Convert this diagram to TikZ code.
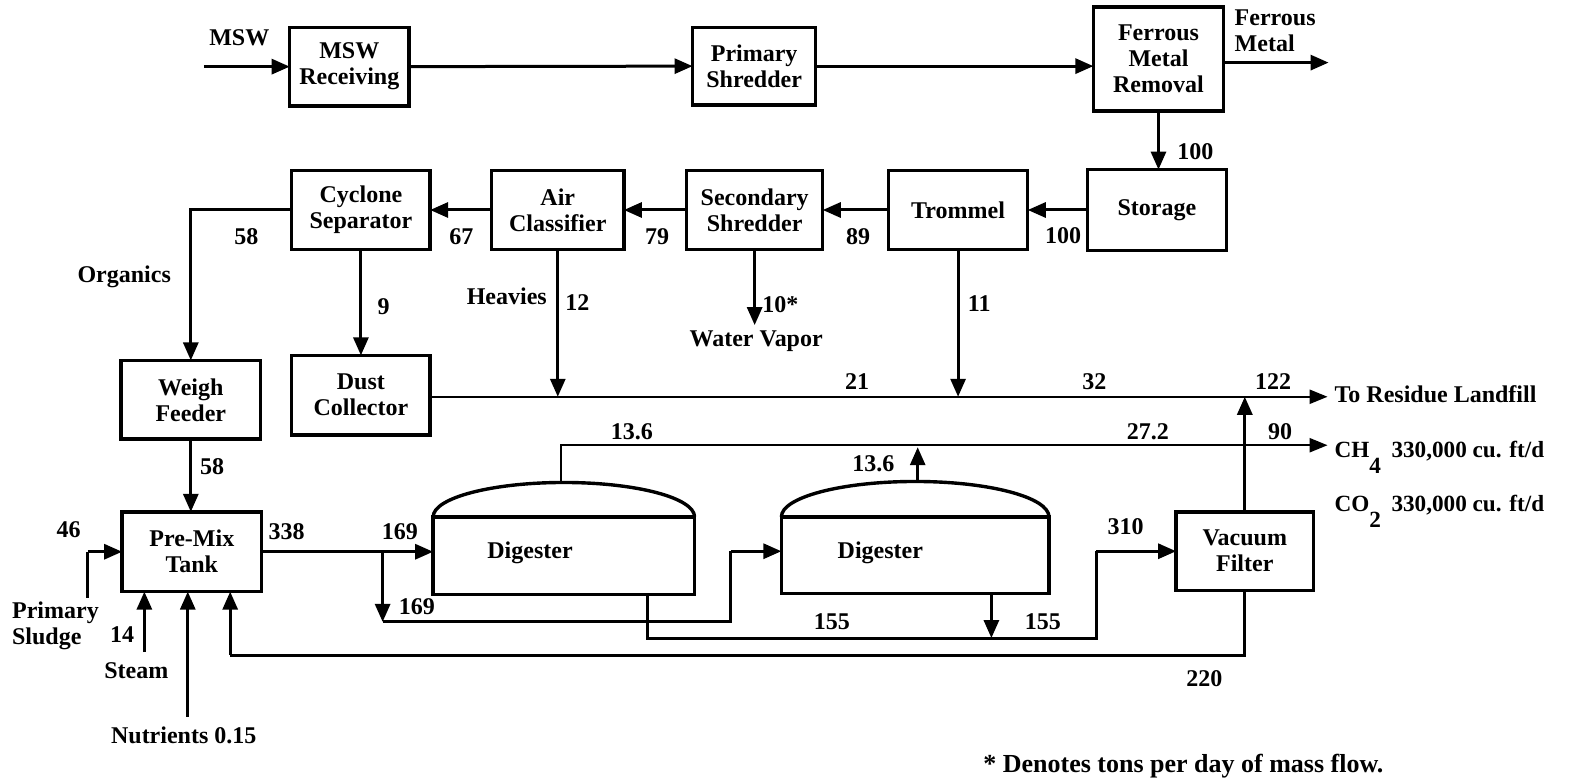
\documentclass[tikz,border=0pt]{standalone}
\usepackage{fontspec}
\setmainfont{Liberation Serif}
\usetikzlibrary{arrows.meta}
\begin{document}
\begin{tikzpicture}[x=0.5048pt,y=-0.5048pt,
  every node/.style={font=\fontsize{12}{13}\selectfont\bfseries, inner sep=0pt, outer sep=0pt},
  box/.style={draw, line width=1.7pt, align=center},
  flow/.style={line width=1.5pt, -{Triangle[length=9pt,width=7.5pt]}},
  pipe/.style={line width=1.5pt},
  mainline/.style={line width=1.15pt, -{Triangle[length=9pt,width=7pt]}},
  lbl/.style={align=left},
  gaslbl/.style={anchor=base west, font=\fontsize{11.6}{13}\selectfont\bfseries}]
\fill[white] (0,0) rectangle (1568,773);
\useasboundingbox (0,0) rectangle (1568,773);

% ---------- boxes ----------
\node[box, minimum width=59.6pt, minimum height=39.4pt] (msw)   at (346,66)      {MSW\\Receiving};
\node[box, minimum width=61.6pt, minimum height=38.9pt] (prim)  at (747,65.5)    {Primary\\Shredder};
\node[box, minimum width=65.1pt, minimum height=52pt]   (ferr)  at (1147.5,58.5) {Ferrous\\Metal\\Removal};
\node[box, minimum width=69.7pt, minimum height=40.4pt] (stor)  at (1146,208)    {Storage};
\node[box, minimum width=69.7pt, minimum height=39.4pt] (trom)  at (949,208)     {Trommel};
\node[box, minimum width=68.1pt, minimum height=39.4pt] (sec)   at (747.5,208)   {Secondary\\Shredder};
\node[box, minimum width=66.1pt, minimum height=39.4pt] (air)   at (552.5,208)   {Air\\Classifier};
\node[box, minimum width=69.2pt, minimum height=39.4pt] (cyc)   at (357.5,208)   {Cyclone\\Separator};
\node[box, minimum width=69.7pt, minimum height=39.4pt] (weigh) at (189,396)     {Weigh\\Feeder};
\node[box, minimum width=69.2pt, minimum height=39.9pt] (dust)  at (357.5,391.5) {Dust\\Collector};
\node[box, minimum width=69.7pt, minimum height=39.9pt] (premix) at (190,546.5)  {Pre-Mix\\Tank};
\node[box, minimum width=130.7pt, minimum height=38.9pt] (dig1) at (558.5,550.5) {};
\node[box, minimum width=133.8pt, minimum height=38.4pt] (dig2) at (906.5,550)   {};
\node[box, minimum width=68.7pt, minimum height=39.4pt] (vac)   at (1233,546)    {Vacuum\\Filter};

% digester domes and labels
\draw[line width=1.7pt] (dig1.north west) arc[start angle=180, end angle=0, x radius=65.35pt, y radius=17.2pt];
\draw[line width=1.7pt] (dig2.north west) arc[start angle=180, end angle=0, x radius=66.9pt, y radius=17.7pt];
\node (d1t) at (525,548) {Digester};
\node (d2t) at (872,548) {Digester};

% ---------- coordinates ----------
\coordinate (mswIn) at (202,66);
\coordinate (fmEnd) at (1316,62);
\coordinate (wv) at (747.5,322);
\coordinate (resEnd) at (1315,393);
\coordinate (g1) at (556,479);
\coordinate (gasEnd) at (1315,441);
\coordinate (g2) at (909,478);
\coordinate (g2t) at (909,443);
\coordinate (br) at (379,546.5);
\coordinate (brB) at (379,616);
\coordinate (b2) at (724,616);
\coordinate (b2t) at (724,546);
\coordinate (o1) at (641,551);
\coordinate (o1b) at (641,632);
\coordinate (o2b) at (1086,632);
\coordinate (o2t) at (1086,546);
\coordinate (d2o) at (982,551);
\coordinate (rec) at (1233,649);
\coordinate (recL) at (228,649);
\coordinate (ps) at (87,592);
\coordinate (psT) at (87,546.5);
\coordinate (stm) at (143,646);
\coordinate (nut) at (186,710);

% ---------- connectors ----------
\draw[flow] (mswIn) -- (msw.west);
\draw[flow] (msw.east) -- (prim.west);
\draw[flow] (prim.east) -- (prim.east -| ferr.west);
\draw[flow] (fmEnd -| ferr.east) -- (fmEnd);
\draw[flow] (ferr.south) -- (ferr.south |- stor.north);
\draw[flow] (stor.west) -- (trom.east);
\draw[flow] (trom.west) -- (sec.east);
\draw[flow] (sec.west) -- (air.east);
\draw[flow] (air.west) -- (cyc.east);
\draw[flow] (cyc.west) -| (weigh.north);
\draw[flow] (cyc.south) -- (cyc.south |- dust.north);
\draw[flow] (air.south) -- (air.south |- resEnd);
\draw[flow] (sec.south) -- (wv);
\draw[flow] (trom.south) -- (trom.south |- resEnd);
\draw[mainline] (dust.east |- resEnd) -- (resEnd);
\draw[mainline] (g1) -- (g1 |- gasEnd) -- (gasEnd);
\draw[flow] (g2) -- (g2t);
\draw[flow] (weigh.south) -- (weigh.south |- premix.north);
\draw[flow] (premix.east) -- (premix.east -| dig1.west);
\draw[flow] (br) -- (brB);
\draw[pipe] (brB) -- (b2) -- (b2t);
\draw[flow] (b2t) -- (b2t -| dig2.west);
\draw[pipe] (o1 |- dig1.south) -- (o1b) -- (o2b) -- (o2t);
\draw[flow] (o2t) -- (vac.west);
\draw[flow] (d2o |- dig2.south) -- (d2o |- o1b);
\draw[flow] (vac.north) -- (vac.north |- resEnd);
\draw[pipe] (vac.south) -- (rec) -- (recL);
\draw[flow] (recL) -- (recL |- premix.south);
\draw[pipe] (ps) -- (psT);
\draw[flow] (psT) -- (premix.west);
\draw[flow] (stm) -- (stm |- premix.south);
\draw[flow] (nut) -- (nut |- premix.south);

% ---------- labels ----------
\node (lMSW) at (237,37) {MSW};
\node[lbl, anchor=west] (lFM) at (1223,30.5) {Ferrous\\Metal};
\node (l100a) at (1184,150) {100};
\node (l100b) at (1053,233) {100};
\node (l89) at (850,234) {89};
\node (l79) at (651,234) {79};
\node (l67) at (457,234) {67};
\node (l58a) at (244,234) {58};
\node (lOrg) at (123,274) {Organics};
\node (l9) at (380,304) {9};
\node (lHev) at (502,293) {Heavies};
\node (l12) at (572,300) {12};
\node (l10) at (773,302) {10*};
\node (lWV) at (749,338) {Water Vapor};
\node (l11) at (970,301) {11};
\node (l21) at (849,378) {21};
\node (l32) at (1084,378) {32};
\node (l122) at (1261,378) {122};
\node[anchor=west] (lRL) at (1322,390) {To Residue Landfill};
\node (l136a) at (626,428) {13.6};
\node (l272) at (1137,428) {27.2};
\node (l90) at (1268,428) {90};
\node (l136b) at (865,459) {13.6};
\node (l58b) at (210,462) {58};
\node (l46) at (68,525) {46};
\node (l338) at (284,527) {338};
\node (l169a) at (396,527) {169};
\node (l169b) at (413,601) {169};
\node (l155a) at (824,616) {155};
\node (l155b) at (1033,616) {155};
\node (l310) at (1115,522) {310};
\node[lbl, anchor=west] (lPS) at (12,619.5) {Primary\\Sludge};
\node (l14) at (121,629) {14};
\node (lSt) at (135,664) {Steam};
\node (lNut) at (182,728) {Nutrients 0.15};
\node (l220) at (1193,672) {220};
\node[gaslbl] (lCH4) at (1322,453) {CH\raisebox{-1.5ex}{4}\hspace{0.45em}330,000 cu. ft/d};
\node[gaslbl] (lCO2) at (1322,507) {CO\raisebox{-1.5ex}{2}\hspace{0.45em}330,000 cu. ft/d};
\node[anchor=west, font=\fontsize{13}{14}\selectfont\bfseries] (lNote) at (974,759) {* Denotes tons per day of mass flow.};
\end{tikzpicture}
\end{document}
